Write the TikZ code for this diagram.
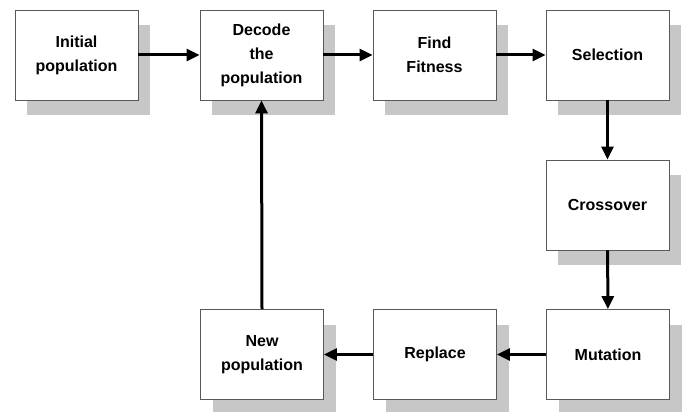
\documentclass[tikz,border=0pt]{standalone}
\usepackage{fontspec}
\setmainfont{Liberation Sans}
\usetikzlibrary{arrows.meta,shadows}
\begin{document}
\begin{tikzpicture}[x=1pt,y=-1pt,
  box/.style={draw=black!65, line width=0.9pt, fill=white,
    minimum width=123pt, minimum height=90pt, inner sep=0pt,
    align=center, font=\fontsize{16}{24}\selectfont\bfseries,
    drop shadow={shadow xshift=12pt, shadow yshift=-15pt, fill=black!22, opacity=1}},
  flow/.style={line width=3pt, -{Triangle[length=13pt,width=12pt]}}
]
\fill[white] (0,0) rectangle (688,412);
\useasboundingbox (0,0) rectangle (688,412);
\node[box] (init) at (76.5,55) {Initial\\population};
\node[box] (dec)  at (261.5,55) {Decode\\the\\population};
\node[box] (fit)  at (434.5,55) {Find\\Fitness};
\node[box] (sel)  at (607.5,55) {Selection};
\node[box] (cro)  at (607.5,205) {Crossover};
\node[box] (mut)  at (608,354.5) {Mutation};
\node[box] (rep)  at (435,354.5) {Replace};
\node[box] (new)  at (262,354.5) {New\\population};
\draw[flow] (init) -- (dec);
\draw[flow] (dec) -- (fit);
\draw[flow] (fit) -- (sel);
\draw[flow] (sel) -- (cro);
\draw[flow] (cro) -- (mut);
\draw[flow] (mut) -- (rep);
\draw[flow] (rep) -- (new);
\draw[flow] (new.north) -- (dec.south);
\end{tikzpicture}
\end{document}
